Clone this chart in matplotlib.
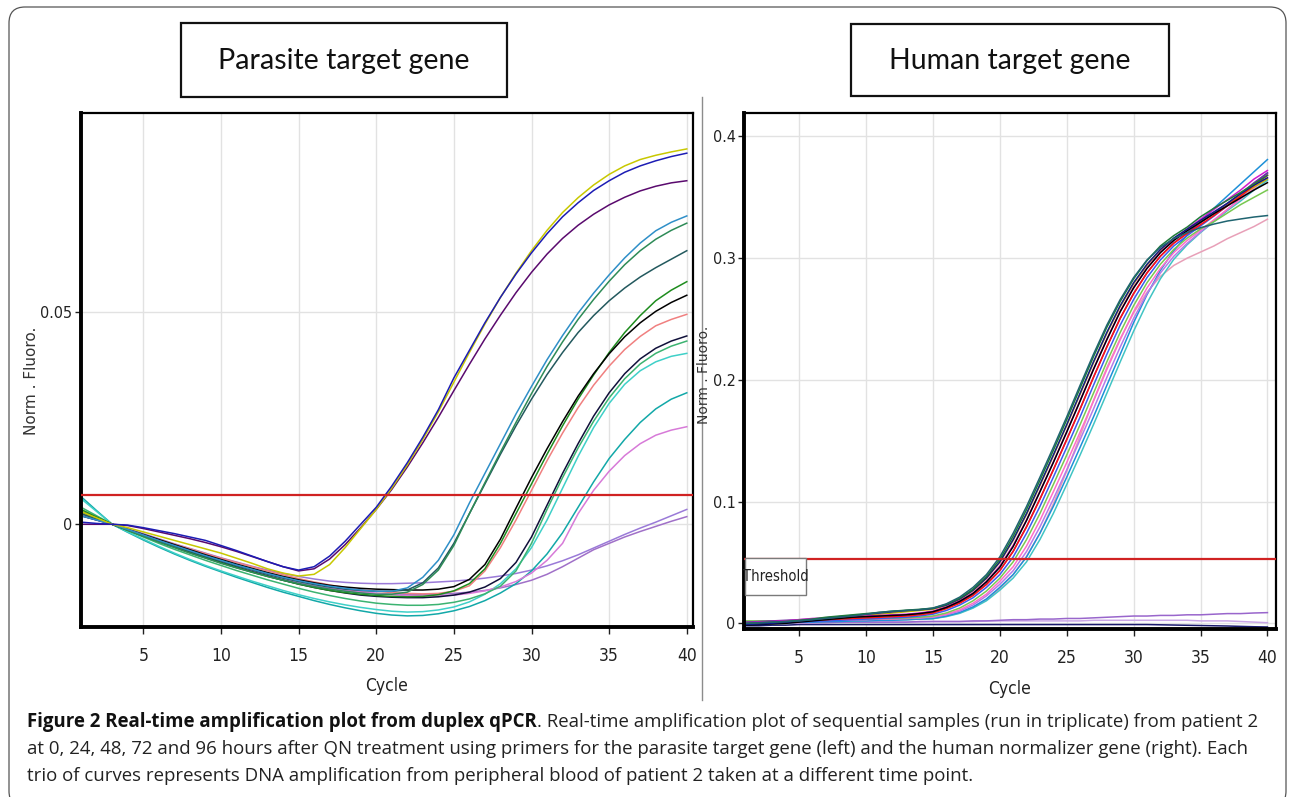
import matplotlib
matplotlib.use('Agg')
import matplotlib.pyplot as plt
from matplotlib.patches import Rectangle, FancyBboxPatch
from matplotlib.lines import Line2D

# ---------------- data (values in units of 1e-4 normalised fluorescence) ----------------
cycles = list(range(1, 41))
x_ticks = [5, 10, 15, 20, 25, 30, 35, 40]
left_yticks = [0, 0.05]
left_ytick_labels = ['0', '0.05']
right_yticks = [0, 0.1, 0.2, 0.3, 0.4]
right_ytick_labels = ['0', '0.1', '0.2', '0.3', '0.4']
left_threshold = 0.0069
right_threshold = 0.0531
panel_titles = ['Parasite target gene', 'Human target gene']
y_label = 'Norm . Fluoro.'
x_label = 'Cycle'

# parasite target gene
p_blue = [5, 2, 0, -2, -8, -15, -22, -30, -38, -50, -62, -75, -88, -100, -108, -100, -75, -40, 0, 40,
          90, 145, 205, 270, 345, 410, 475, 535, 590, 640, 685, 725, 758, 787, 810, 830, 845, 857, 867, 875]
p_yellow = [30, 15, 0, -8, -18, -28, -38, -48, -58, -68, -80, -92, -105, -115, -122, -118, -95, -55, -10, 35,
            85, 140, 200, 265, 335, 405, 472, 535, 592, 645, 693, 735, 770, 800, 825, 845, 860, 870, 878, 885]
p_purple = [0, 0, 0, -3, -10, -18, -26, -34, -43, -53, -64, -76, -88, -100, -110, -105, -82, -48, -8, 35,
            82, 135, 192, 252, 315, 377, 437, 493, 546, 594, 637, 674, 705, 731, 753, 771, 786, 797, 805, 810]
p_steel = [20, 10, 0, -12, -25, -38, -50, -62, -74, -85, -96, -106, -116, -125, -133, -140, -146, -151, -155, -158,
           -158, -150, -125, -85, -25, 50, 120, 190, 260, 325, 388, 445, 498, 545, 588, 628, 663, 692, 712, 727]
p_seagreen = [30, 15, 0, -14, -28, -42, -55, -68, -80, -92, -103, -113, -123, -132, -140, -147, -153, -158, -162, -165,
              -165, -160, -142, -108, -50, 25, 98, 170, 240, 308, 372, 430, 483, 530, 573, 612, 645, 672, 693, 710]
p_slate = [25, 12, 0, -13, -26, -39, -52, -64, -76, -87, -98, -108, -118, -127, -135, -142, -148, -153, -156, -158,
           -158, -155, -138, -103, -45, 25, 95, 165, 232, 295, 353, 405, 452, 492, 527, 557, 583, 605, 625, 645]
p_black = [30, 15, 0, -12, -24, -36, -48, -60, -72, -83, -94, -104, -114, -123, -131, -138, -144, -148, -151, -153,
           -154, -155, -155, -153, -147, -130, -95, -35, 38, 110, 178, 242, 302, 355, 402, 442, 475, 502, 523, 540]
p_forest = [35, 17, 0, -14, -28, -41, -54, -67, -79, -91, -102, -113, -123, -132, -141, -149, -156, -161, -165, -168,
            -170, -171, -170, -166, -157, -140, -105, -45, 25, 95, 165, 232, 295, 352, 405, 452, 492, 527, 552, 572]
p_salmon = [25, 12, 0, -12, -24, -36, -47, -58, -69, -80, -90, -100, -110, -119, -128, -136, -143, -149, -154, -158,
            -161, -163, -164, -163, -158, -145, -110, -55, 10, 80, 150, 215, 275, 328, 373, 412, 443, 468, 483, 495]
p_navy = [20, 10, 0, -13, -27, -40, -53, -66, -78, -90, -101, -112, -122, -132, -141, -149, -156, -162, -167, -170,
          -172, -173, -173, -171, -167, -160, -148, -128, -90, -30, 45, 120, 190, 255, 310, 355, 390, 415, 432, 444]
p_medgreen = [40, 20, 0, -15, -30, -45, -59, -72, -85, -97, -109, -120, -131, -141, -151, -160, -168, -175, -181, -186,
              -189, -191, -191, -189, -184, -176, -164, -146, -110, -45, 35, 110, 180, 243, 298, 343, 378, 403, 420, 432]
p_lightsea = [60, 30, 0, -18, -35, -52, -68, -83, -97, -110, -122, -134, -145, -156, -166, -175, -183, -190, -196, -201,
              -205, -207, -206, -202, -195, -183, -165, -140, -105, -55, 10, 85, 160, 228, 285, 330, 362, 383, 396, 403]
p_teal = [65, 32, 0, -19, -37, -54, -70, -85, -99, -112, -125, -137, -149, -160, -170, -180, -189, -197, -204, -210,
          -214, -216, -215, -211, -204, -194, -180, -162, -140, -110, -70, -20, 40, 100, 155, 200, 240, 272, 295, 310]
p_orchid = [30, 15, 0, -12, -25, -38, -50, -62, -73, -84, -95, -105, -115, -124, -133, -141, -148, -154, -159, -163,
            -166, -168, -169, -169, -167, -163, -157, -148, -135, -115, -85, -45, 25, 80, 125, 162, 190, 210, 222, 230]
p_lavender = [20, 10, 0, -10, -22, -34, -46, -57, -68, -79, -89, -99, -108, -116, -123, -129, -134, -137, -139, -140,
              -140, -139, -138, -136, -134, -131, -127, -122, -116, -108, -98, -86, -72, -56, -40, -24, -9, 5, 20, 35]
p_violet = [25, 12, 0, -13, -27, -40, -53, -66, -78, -90, -101, -111, -121, -130, -138, -145, -151, -156, -160, -163,
            -165, -166, -166, -165, -163, -160, -156, -150, -142, -132, -118, -100, -80, -60, -45, -30, -17, -5, 7, 18]

# human target gene
h_darkteal = [0, 5, 10, 15, 20, 30, 40, 50, 60, 75, 90, 100, 105, 112,
              125, 160, 215, 295, 400, 545, 740, 960, 1200, 1445, 1695, 1955, 2210, 2450, 2660, 2840, 2985, 3090, 3160, 3210,
              3250, 3280, 3305, 3322, 3338, 3350]
h_green = [0, 5, 10, 15, 25, 35, 50, 60, 70, 80, 90, 100, 108, 115,
           125, 155, 205, 280, 385, 525, 715, 935, 1175, 1420, 1672, 1932, 2190, 2432, 2645, 2830, 2980, 3100, 3185, 3255,
           3340, 3410, 3475, 3540, 3610, 3680]
h_navy = [-10, -5, 0, 10, 20, 30, 45, 55, 65, 75, 85, 95, 105, 112,
          121, 150, 200, 272, 372, 505, 688, 902, 1140, 1382, 1632, 1890, 2148, 2390, 2610, 2798, 2950, 3072, 3165, 3238,
          3310, 3380, 3450, 3530, 3600, 3660]
h_black = [-15, -10, -5, 0, 10, 20, 30, 40, 50, 55, 60, 65, 70, 80,
           95, 130, 180, 245, 340, 460, 630, 845, 1080, 1320, 1570, 1825, 2085, 2330, 2560, 2755, 2915, 3045, 3145, 3225,
           3295, 3365, 3430, 3495, 3560, 3620]
h_magenta = [5, 10, 15, 20, 30, 40, 45, 50, 55, 60, 65, 70, 75, 85,
             100, 135, 185, 250, 345, 470, 640, 850, 1085, 1325, 1575, 1830, 2090, 2335, 2565, 2760, 2920, 3050, 3150, 3240,
             3320, 3400, 3480, 3560, 3650, 3720]
h_red = [0, 5, 10, 15, 20, 25, 30, 35, 40, 45, 50, 55, 60, 70,
         85, 120, 165, 228, 318, 432, 590, 792, 1020, 1260, 1508, 1760, 2020, 2270, 2505, 2708, 2878, 3015, 3122, 3202,
         3275, 3350, 3430, 3510, 3600, 3680]
h_purple = [10, 15, 20, 25, 30, 35, 40, 45, 50, 55, 60, 65, 70, 80,
            95, 128, 172, 235, 322, 435, 592, 795, 1022, 1262, 1510, 1762, 2022, 2272, 2507, 2710, 2880, 3017, 3125, 3210,
            3290, 3370, 3450, 3530, 3620, 3700]
h_olive = [5, 5, 10, 15, 20, 25, 35, 45, 55, 65, 75, 85, 95, 105,
           115, 145, 195, 268, 368, 500, 682, 895, 1132, 1375, 1625, 1882, 2140, 2382, 2602, 2790, 2942, 3065, 3160, 3235,
           3305, 3375, 3445, 3515, 3585, 3650]
h_blue = [0, 0, 5, 5, 10, 15, 20, 25, 30, 35, 40, 45, 50, 60,
          75, 105, 150, 210, 295, 400, 545, 740, 960, 1200, 1445, 1695, 1955, 2210, 2450, 2660, 2840, 2985, 3100, 3185,
          3265, 3345, 3430, 3515, 3610, 3700]
h_lightgreen = [20, 20, 20, 20, 25, 25, 30, 30, 35, 35, 40, 40, 45, 50,
                60, 85, 125, 185, 265, 370, 505, 688, 902, 1140, 1382, 1632, 1890, 2148, 2390, 2610, 2798, 2950, 3072, 3165,
                3240, 3300, 3370, 3440, 3500, 3560]
h_pink = [10, 10, 15, 15, 20, 20, 25, 25, 30, 30, 35, 35, 40, 45,
          55, 75, 110, 165, 240, 345, 465, 635, 845, 1080, 1320, 1570, 1825, 2085, 2330, 2560, 2755, 2915, 3045, 3145,
          3230, 3315, 3400, 3485, 3575, 3660]
h_violet = [15, 15, 15, 20, 20, 25, 25, 30, 30, 35, 35, 40, 40, 45,
            50, 70, 100, 150, 225, 320, 432, 590, 792, 1020, 1260, 1508, 1760, 2020, 2270, 2505, 2708, 2878, 3015, 3122,
            3215, 3305, 3400, 3495, 3595, 3690]
h_cyanblue = [0, 0, 5, 5, 10, 10, 15, 15, 20, 20, 25, 25, 30, 35,
              40, 60, 90, 135, 200, 295, 400, 545, 740, 960, 1200, 1445, 1695, 1955, 2210, 2470, 2700, 2900, 3060, 3190,
              3300, 3410, 3510, 3610, 3710, 3810]
h_turquoise = [5, 5, 10, 10, 10, 15, 15, 20, 20, 25, 25, 30, 30, 35,
               38, 55, 82, 125, 185, 272, 372, 505, 688, 902, 1140, 1382, 1632, 1890, 2148, 2400, 2630, 2830, 2990, 3110,
               3210, 3300, 3390, 3470, 3560, 3640]
h_palepink = [10, 10, 10, 15, 15, 15, 20, 20, 20, 25, 25, 30, 30, 35,
              40, 58, 85, 130, 195, 285, 400, 550, 740, 980, 1250, 1540, 1830, 2100, 2340, 2550, 2720, 2850, 2940, 3000,
              3050, 3100, 3160, 3210, 3260, 3320]
h_flat_lavender = [0, 0, 5, 5, 5, 5, 5, 10, 10, 10, 10, 10, 10, 15, 15, 15, 15, 20, 20, 25,
                   30, 30, 35, 35, 40, 40, 45, 50, 55, 60, 60, 65, 65, 70, 70, 75, 80, 80, 85, 88]
h_flat_lilac = [10, 8, 5, 5, 5, 5, 10, 10, 10, 10, 10, 10, 10, 10, 15, 15, 15, 15, 20, 20,
                20, 20, 20, 20, 20, 20, 25, 25, 25, 25, 25, 25, 25, 25, 20, 20, 20, 15, 10, 5]
h_flat_navy = [-20, -20, -15, -15, -10, -10, -10, -10, -10, -10, -10, -10, -10, -10, -10, -10, -10, -10, -10, -10,
               -10, -10, -10, -10, -10, -10, -10, -10, -10, -10, -10, -12, -14, -16, -18, -20, -22, -25, -28, -30]

UNIT = 1e-4

parasite_curves = [
    (p_lavender, '#9a7ad8'), (p_violet, '#a070c8'),
    (p_teal, '#12a8a8'), (p_lightsea, '#3fd0c8'), (p_orchid, '#d77ad8'),
    (p_navy, '#10103a'), (p_medgreen, '#3cb371'),
    (p_salmon, '#f08080'), (p_forest, '#1e8c1e'), (p_black, '#000000'),
    (p_slate, '#23595e'), (p_seagreen, '#2e8b57'), (p_steel, '#2f8fc8'),
    (p_purple, '#5a0a6e'), (p_yellow, '#c8c800'), (p_blue, '#1c1cb4'),
]
human_curves = [
    (h_flat_navy, '#1a1a6e'), (h_flat_lilac, '#c9a6e6'), (h_flat_lavender, '#9966cc'),
    (h_palepink, '#e8a0b8'), (h_turquoise, '#40c4c4'), (h_cyanblue, '#1e90d8'),
    (h_violet, '#b47be8'), (h_pink, '#ff6ec7'), (h_lightgreen, '#78c850'),
    (h_blue, '#3a5cf0'), (h_olive, '#c8b400'), (h_purple, '#7030a0'),
    (h_red, '#ff1010'), (h_magenta, '#d01ad0'), (h_black, '#000000'),
    (h_navy, '#101a86'), (h_green, '#1f7a3a'), (h_darkteal, '#1f6470'),
]

# ---------------- figure ----------------
W, H = 1292, 797
fig = plt.figure(figsize=(W / 100, H / 100), dpi=100)
fig.patch.set_facecolor('white')
TICK_FONT = dict(family='DejaVu Sans', stretch='condensed')


def fx(px):
    return px / W


def fy(py):
    return 1 - py / H


def make_axes(l, t, r, b):
    return fig.add_axes([fx(l), fy(b), fx(r) - fx(l), fy(t) - fy(b)])


axL = make_axes(80.7, 113.3, 693, 626.7)
axR = make_axes(744, 113.3, 1276, 629.3)


def style(ax, curves, xlim, ylim, yticks, ylabels, thr):
    ax.set_xlim(*xlim)
    ax.set_ylim(*ylim)
    for vals, col in curves:
        ax.plot(cycles, [v * UNIT for v in vals], color=col, lw=1.1)
    ax.axhline(thr, color='#d02222', lw=1.6, zorder=5)
    ax.set_xticks(x_ticks)
    ax.set_xticklabels([str(t) for t in x_ticks])
    ax.set_yticks(yticks)
    ax.set_yticklabels(ylabels)
    ax.grid(True, color='#e2e2e2', lw=1.0)
    ax.set_axisbelow(True)
    ax.tick_params(direction='out', length=5, width=1, colors='#202020')
    ax.tick_params(axis='x', pad=9.5, labelsize=12.5)
    ax.tick_params(axis='y', pad=2, length=4, labelsize=11.5)
    for lbl in ax.get_xticklabels() + ax.get_yticklabels():
        lbl.set_fontfamily(TICK_FONT['family'])
        lbl.set_fontstretch(TICK_FONT['stretch'])
        lbl.set_color('#222222')
    for s in ['top', 'right']:
        ax.spines[s].set_linewidth(1.6)
    for s in ['left', 'bottom']:
        ax.spines[s].set_linewidth(2.8)
    for s in ax.spines.values():
        s.set_color('black')
    ax.set_xlabel(x_label, fontsize=12.5, labelpad=9, color='#222222', **TICK_FONT)


style(axL, parasite_curves, (0.97, 40.4), (-0.02415, 0.0969), left_yticks, left_ytick_labels, left_threshold)
style(axR, human_curves, (0.89, 40.64), (-0.0049, 0.419), right_yticks, right_ytick_labels, right_threshold)

# y labels
fig.text(fx(32), fy(381), y_label, rotation=90, ha='center', va='center', fontsize=11,
         family='DejaVu Sans', color='#333333')
fig.text(fx(704.5), fy(375), y_label, rotation=90, ha='center', va='center', fontsize=10,
         family='DejaVu Sans', color='#333333')

# threshold label box (right panel)
axR.add_patch(Rectangle((0.002, 0.0665), 0.1145, 0.0717, transform=axR.transAxes,
                        facecolor='white', edgecolor='#7a7a7a', lw=1.0, zorder=6))
axR.text(0.059, 0.1024, 'Threshold', transform=axR.transAxes, ha='center', va='center',
         fontsize=10.5, color='#222222', zorder=7, **TICK_FONT)

renderer = fig.canvas.get_renderer()


def fit_width(t, target):
    w = t.get_window_extent(renderer=renderer).width
    t.set_fontsize(t.get_fontsize() * target / w)


# title boxes
for (l, t, r, b), title, tw in [((181, 23.3, 506.7, 96.7), panel_titles[0], 252),
                                ((851, 24, 1169, 96), panel_titles[1], 242)]:
    fig.patches.append(Rectangle((fx(l), fy(b)), fx(r) - fx(l), fy(t) - fy(b), transform=fig.transFigure,
                                 facecolor='white', edgecolor='#111111', lw=1.6))
    txt = fig.text(fx((l + r) / 2), fy((t + b) / 2 + 1), title, ha='center', va='center',
                   fontsize=20, family=['Lato', 'DejaVu Sans'], color='#111111')
    fit_width(txt, tw)

# divider between panels
fig.lines.append(Line2D([fx(701.5), fx(701.5)], [fy(97), fy(700)], transform=fig.transFigure,
                        color='#8c8c8c', lw=1.0))

# outer rounded frame
fig.patches.append(FancyBboxPatch((0.09, -0.10), 12.77, 8.00,
                                  boxstyle='round,pad=0,rounding_size=0.16',
                                  transform=fig.dpi_scale_trans, facecolor='none',
                                  edgecolor='#555555', lw=0.9))

# caption
cap_bold = 'Figure 2 Real-time amplification plot from duplex qPCR'
cap_line1 = '. Real-time amplification plot of sequential samples (run in triplicate) from patient 2'
cap_line2 = ('at 0, 24, 48, 72 and 96 hours after QN treatment using primers for the parasite target gene '
             '(left) and the human normalizer gene (right). Each')
cap_line3 = ('trio of curves represents DNA amplification from peripheral blood of patient 2 taken at a '
             'different time point.')
CAP_FONT = ['Open Sans', 'DejaVu Sans']
t2 = fig.text(fx(27), fy(754), cap_line2, ha='left', va='baseline', fontsize=13, family=CAP_FONT, color='#222222')
fit_width(t2, 1211)
fs = t2.get_fontsize()
tb = fig.text(fx(27), fy(727), cap_bold, ha='left', va='baseline', fontsize=fs, family=CAP_FONT,
              weight='bold', color='#111111')
bx = tb.get_window_extent(renderer=renderer).x1
fig.text(bx / W, fy(727), cap_line1, ha='left', va='baseline', fontsize=fs, family=CAP_FONT, color='#222222')
fig.text(fx(27), fy(781), cap_line3, ha='left', va='baseline', fontsize=fs, family=CAP_FONT, color='#222222')

fig.savefig('out.png', dpi=100, facecolor='white')
